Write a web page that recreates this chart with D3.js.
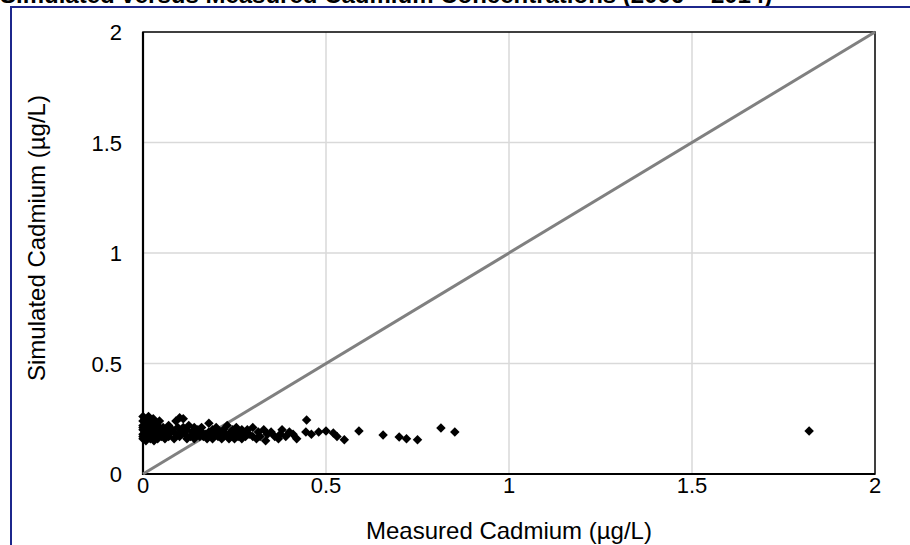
<!DOCTYPE html>
<html><head><meta charset="utf-8">
<script src="https://cdn.jsdelivr.net/npm/d3@7"></script>
<style>body{margin:0;background:#fff}svg{display:block;font-family:Arial,"Liberation Sans",sans-serif}</style>
</head><body><svg id="c" width="910" height="545"></svg>
<script>
const title = "Simulated versus Measured Cadmium Concentrations (2006 – 2014)";
const xTitle = "Measured Cadmium (µg/L)";
const yTitle = "Simulated Cadmium (µg/L)";
const xTicks = [0, 0.5, 1, 1.5, 2];
const yTicks = [0, 0.5, 1, 1.5, 2];
const lineOneToOne = [[0, 0], [2, 2]];
const measured = [
0,0,0,0,0,0,0,0,0.005,0.005,0.008,0.01,0.01,0.012,0.015,0.015,0.018,0.02,0.02,0.022,0.025,0.025,0.028,0.03,0.03,0.032,0.035,0.04,0.04,0.042,0.045,0.05,0.05,0.055,0.06,0.06,0.065,0.07,0.07,0.075,0.08,0.085,0.09,0.09,0.095,0.1,0.1,0.105,0.11,0.11,0.115,0.12,0.12,0.125,0.13,0.135,0.14,0.14,0.145,0.15,0.155,0.16,0.16,0.165,0.17,0.175,0.18,0.18,0.185,0.19,0.19,0.2,0.2,0.205,0.21,0.215,0.22,0.22,0.225,0.23,0.235,0.24,0.24,0.245,0.25,0.25,0.255,0.26,0.26,0.265,0.27,0.27,0.275,0.28,0.285,0.29,0.3,0.3,0.31,0.315,0.32,0.33,0.335,0.34,0.35,0.36,0.37,0.375,0.38,0.39,0.4,0.41,0.42,
0.447,0.445,0.46,0.48,0.50,0.52,0.53,0.55,0.59,0.656,0.70,0.72,0.75,0.814,0.852,1.82];
const simulated = [
0.16,0.18,0.2,0.22,0.24,0.26,0.17,0.21,0.19,0.25,0.15,0.23,0.17,0.2,0.26,0.18,0.22,0.16,0.24,0.19,0.21,0.17,0.25,0.15,0.2,0.23,0.18,0.22,0.16,0.2,0.24,0.17,0.19,0.21,0.16,0.2,0.18,0.22,0.17,0.19,0.2,0.16,0.24,0.18,0.21,0.255,0.17,0.19,0.21,0.25,0.18,0.16,0.2,0.22,0.17,0.19,0.21,0.16,0.18,0.2,0.17,0.19,0.21,0.17,0.18,0.16,0.23,0.19,0.17,0.2,0.16,0.18,0.21,0.17,0.19,0.16,0.2,0.17,0.18,0.22,0.16,0.19,0.17,0.2,0.18,0.16,0.21,0.17,0.19,0.18,0.2,0.16,0.19,0.17,0.2,0.18,0.17,0.21,0.16,0.19,0.17,0.2,0.15,0.18,0.19,0.17,0.16,0.18,0.2,0.17,0.19,0.18,0.16,
0.244,0.19,0.18,0.19,0.195,0.185,0.17,0.155,0.195,0.176,0.167,0.16,0.155,0.208,0.19,0.195];

const svg = d3.select("#c");
const m = {l:143, r:875, t:32, b:474};
const x = d3.scaleLinear().domain([0,2]).range([m.l, m.r]);
const y = d3.scaleLinear().domain([0,2]).range([m.b, m.t]);

svg.append("text").attr("x", 0).attr("y", 3).attr("font-size", 24).attr("font-weight", "bold")
  .attr("fill", "#000").text(title);
svg.append("path").attr("d", `M11,545 V7 H910`).attr("fill","none").attr("stroke","#1c268c").attr("stroke-width",2);

// grid
svg.append("g").selectAll("line").data(xTicks.slice(1,-1)).join("line")
  .attr("x1", d=>x(d)).attr("x2", d=>x(d)).attr("y1", m.t).attr("y2", m.b)
  .attr("stroke","#d9d9d9").attr("stroke-width",1.5);
svg.append("g").selectAll("line").data(yTicks.slice(1,-1)).join("line")
  .attr("y1", d=>y(d)).attr("y2", d=>y(d)).attr("x1", m.l).attr("x2", m.r)
  .attr("stroke","#d9d9d9").attr("stroke-width",1.5);

// border
svg.append("rect").attr("x", m.l).attr("y", m.t).attr("width", m.r-m.l).attr("height", m.b-m.t)
  .attr("fill","none").attr("stroke","#000").attr("stroke-width",1.5);
svg.append("path").attr("d", `M${m.l},${m.t} V${m.b} H${m.r}`).attr("fill","none").attr("stroke","#000").attr("stroke-width",2.2);

// 1:1 line
svg.append("path").attr("d", d3.line().x(d=>x(d[0])).y(d=>y(d[1]))(lineOneToOne))
  .attr("stroke","#808080").attr("stroke-width",3).attr("fill","none");

// points
svg.append("g").selectAll("path").data(measured.map((v,i)=>[v, simulated[i]])).join("path")
  .attr("transform", d=>`translate(${x(d[0])},${y(d[1])}) rotate(45)`)
  .attr("d", d3.symbol().type(d3.symbolSquare).size(45)).attr("fill","#000");

// tick labels
svg.append("g").selectAll("text").data(xTicks).join("text")
  .attr("x", d=>x(d)).attr("y", 493).attr("text-anchor","middle").attr("font-size",22).text(d=>d);
svg.append("g").selectAll("text").data(yTicks).join("text")
  .attr("x", 122).attr("y", d=>y(d)+8).attr("text-anchor","end").attr("font-size",22).text(d=>d);

svg.append("text").attr("x", 509).attr("y", 539).attr("text-anchor","middle").attr("font-size",24).text(xTitle);
svg.append("text").attr("transform","translate(45,238) rotate(-90)").attr("text-anchor","middle").attr("font-size",24).text(yTitle);
</script></body></html>
